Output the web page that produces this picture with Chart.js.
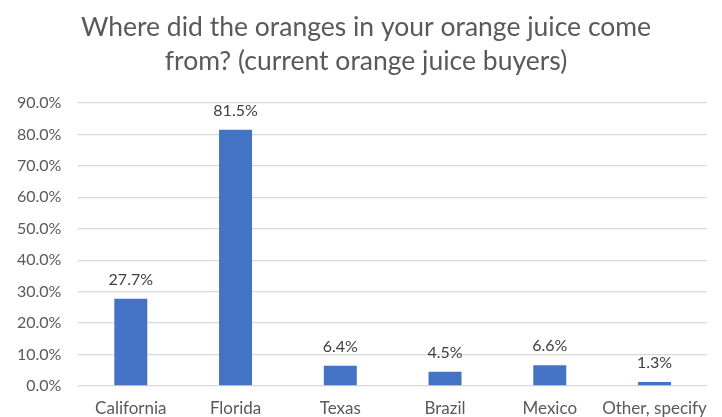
<!DOCTYPE html>
<html>
<head>
<meta charset="utf-8">
<script src="https://cdn.jsdelivr.net/npm/chart.js@4/dist/chart.umd.min.js"></script>
<style>
  html, body { margin: 0; padding: 0; background: #fff; }
  #wrap { position: relative; width: 722px; height: 417px; }
</style>
</head>
<body>
<div id="wrap"><canvas id="chart" width="722" height="417"></canvas></div>
<script>
const categories = ['California', 'Florida', 'Texas', 'Brazil', 'Mexico', 'Other, specify'];
const shares = [27.7, 81.5, 6.4, 4.5, 6.6, 1.3];
const yTicks = [0, 10, 20, 30, 40, 50, 60, 70, 80, 90];

const FONT = 'Lato, "Open Sans", sans-serif';
const TEXT = '#595959';

// draws the value above each bar, like Excel's data labels
const barLabels = {
    id: 'barLabels',
    afterLayout(chart) {
        // the title sits a little right of the canvas centre in the original
        if (chart.titleBlock) {
            chart.titleBlock.left += 12;
            chart.titleBlock.right += 12;
        }
    },
    afterDatasetsDraw(chart) {
        const ctx = chart.ctx;
        const meta = chart.getDatasetMeta(0);
        ctx.save();
        ctx.font = '16px ' + FONT;
        ctx.fillStyle = '#404040';
        ctx.textAlign = 'center';
        ctx.textBaseline = 'middle';
        meta.data.forEach((bar, i) => {
            ctx.fillText(shares[i].toFixed(1) + '%', bar.x, bar.y - 19);
        });
        ctx.restore();
    }
};

new Chart(document.getElementById('chart'), {
    type: 'bar',
    data: {
        labels: categories,
        datasets: [{
            data: shares,
            backgroundColor: '#4472C4',
            barPercentage: 0.315,
            categoryPercentage: 1
        }]
    },
    options: {
        responsive: false,
        animation: false,
        layout: { padding: { left: 0, right: 14, top: 4, bottom: -14 } },
        plugins: {
            legend: { display: false },
            tooltip: { enabled: false },
            title: {
                display: true,
                text: ['Where did the oranges in your orange juice come', 'from? (current orange juice buyers)'],
                color: TEXT,
                font: { family: FONT, size: 26.5, weight: 'normal', lineHeight: 1.3 },
                padding: { top: 6, bottom: 24 }
            }
        },
        scales: {
            x: {
                grid: { display: false, drawTicks: false },
                border: { display: false },
                ticks: {
                    color: TEXT,
                    font: { family: FONT, size: 17, lineHeight: 1 },
                    padding: 14,
                    autoSkip: false,
                    maxRotation: 0,
                    minRotation: 0
                }
            },
            y: {
                min: 0,
                max: 90,
                afterBuildTicks: axis => { axis.ticks = yTicks.map(v => ({ value: v })); },
                grid: { color: '#d9d9d9', lineWidth: 1.3, drawTicks: false },
                border: { display: false },
                ticks: {
                    color: TEXT,
                    font: { family: FONT, size: 16 },
                    padding: 17,
                    callback: v => v.toFixed(1) + '%'
                }
            }
        }
    },
    plugins: [barLabels]
});
</script>
</body>
</html>
